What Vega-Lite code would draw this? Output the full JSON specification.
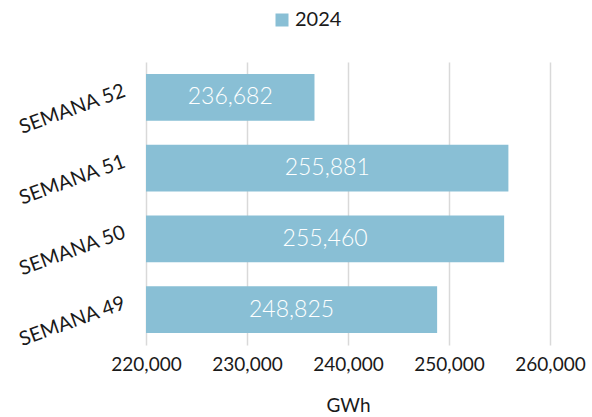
{
  "$schema": "https://vega.github.io/schema/vega-lite/v6.json",
  "autosize": "none",
  "width": 404,
  "height": 283,
  "padding": {"left": 146, "top": 62, "right": 42, "bottom": 72},
  "background": "white",
  "config": {"font": "Lato", "view": {"stroke": null}},
  "data": {"values": [
    {"semana": "SEMANA 52", "gwh": 236682, "serie": "2024"},
    {"semana": "SEMANA 51", "gwh": 255881, "serie": "2024"},
    {"semana": "SEMANA 50", "gwh": 255460, "serie": "2024"},
    {"semana": "SEMANA 49", "gwh": 248825, "serie": "2024"}
  ]},
  "encoding": {
    "y": {"field": "semana", "type": "nominal", "sort": null,
      "scale": {"paddingInner": 0.34, "paddingOuter": 0.17},
      "axis": {"title": null, "domain": false, "ticks": false, "labelAngle": -20, "labelAlign": "right", "labelBaseline": "middle", "labelFontSize": 20, "labelColor": "#1a1a1a", "labelPadding": 22, "labelOffset": -7}},
    "x": {"field": "gwh", "type": "quantitative",
      "scale": {"domain": [220000, 260000], "zero": false, "clamp": true},
      "axis": {"title": "GWh", "titleFontSize": 19, "titleFontWeight": "normal", "titleColor": "#1a1a1a", "titlePadding": 22, "values": [220000, 230000, 240000, 250000, 260000], "format": ",d", "labelFontSize": 19, "labelColor": "#1a1a1a", "labelPadding": 10, "labelFlush": false, "labelOverlap": false, "domain": false, "ticks": false, "grid": true, "gridColor": "#d9d9d9", "gridWidth": 1.5}}
  },
  "layer": [
    {"mark": {"type": "bar", "clip": true},
     "encoding": {
       "x2": {"datum": 220000},
       "color": {"field": "serie", "type": "nominal", "scale": {"range": ["#89BFD5"]},
         "legend": {"title": null, "orient": "none", "legendX": 126, "legendY": -52, "symbolType": "square", "symbolSize": 169, "labelFontSize": 20, "labelColor": "#1a1a1a", "symbolStrokeWidth": 0, "labelOffset": 3}}
     }},
    {"transform": [{"calculate": "(datum.gwh + 220000) / 2", "as": "mid"}],
     "mark": {"type": "text", "color": "white", "fontSize": 23, "fontWeight": 300, "baseline": "middle", "align": "center"},
     "encoding": {
       "x": {"field": "mid", "type": "quantitative"},
       "text": {"field": "gwh", "type": "quantitative", "format": ",d"}
     }
    }
  ]
}
